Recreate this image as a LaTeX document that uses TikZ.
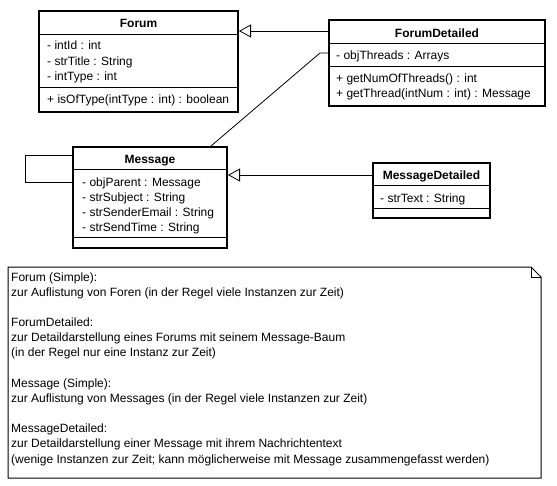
\documentclass[tikz,border=0pt]{standalone}
\usepackage{fontspec}
\setmainfont{Liberation Sans}
\usetikzlibrary{arrows.meta}

\tikzset{
  classbox/.style={draw, line width=2pt, anchor=north west, inner sep=0pt},
  classname/.style={anchor=base, inner sep=0pt, font=\fontsize{12}{15}\selectfont\bfseries},
  member/.style={anchor=base west, inner sep=0pt},
  divider/.style={line width=0.8pt},
  inherit/.style={-{Triangle[open,length=12pt,width=13pt]}, line width=0.8pt},
  assoc/.style={line width=0.8pt},
  notetext/.style={anchor=base west, inner sep=0pt},
}

\begin{document}
\begin{tikzpicture}[x=1pt,y=-1pt,font=\fontsize{12}{15}\selectfont]
        \useasboundingbox (0,0) rectangle (557,485);
        % Forum
        \node[classbox, minimum width=199pt, minimum height=101pt] (forum) at (38,10) {};
        \node[classname] (forum-name) at (138.5,27) {Forum};
        \draw[divider] (38,34) -- (239,34);
        \draw[divider] (38,87) -- (239,87);
        \node[member] (forum-id) at (47,49.5) {- intId : int};
        \node[member] (forum-title) at (47,65) {- strTitle : String};
        \node[member] (forum-type) at (47,80) {- intType : int};
        \node[member] (forum-istype) at (47,103.5) {+ isOfType(intType : int) : boolean};
        % ForumDetailed
        \node[classbox, minimum width=216pt, minimum height=86pt] (fdet) at (328,19) {};
        \node[classname] (fdet-name) at (437,37) {ForumDetailed};
        \draw[divider] (328,43) -- (546,43);
        \draw[divider] (328,66) -- (546,66);
        \node[member] (fdet-threads) at (336,59) {- objThreads : Arrays};
        \node[member] (fdet-num) at (336,82) {+ getNumOfThreads() : int};
        \node[member] (fdet-get) at (336,97) {+ getThread(intNum : int) : Message};
        % Message
        \node[classbox, minimum width=154pt, minimum height=101pt] (msg) at (72,146) {};
        \node[classname] (msg-name) at (150,163) {Message};
        \draw[divider] (72,169) -- (228,169);
        \draw[divider] (72,237) -- (228,237);
        \node[member] (msg-parent) at (82,186) {- objParent : Message};
        \node[member] (msg-subject) at (82,201) {- strSubject : String};
        \node[member] (msg-email) at (82,216) {- strSenderEmail : String};
        \node[member] (msg-time) at (82,231) {- strSendTime : String};
        % MessageDetailed
        \node[classbox, minimum width=117pt, minimum height=55pt] (mdet) at (372,162) {};
        \node[classname] (mdet-name) at (431.5,179.5) {MessageDetailed};
        \draw[divider] (372,185) -- (491,185);
        \draw[divider] (372,208) -- (491,208);
        \node[member] (mdet-text) at (380,202) {- strText : String};
        % connectors
        \coordinate (fdet-in) at ([yshift=-12pt]fdet.north west);
        \draw[inherit] (fdet-in) -- (fdet-in -| forum.east);
        \coordinate (mdet-in) at ([yshift=-13pt]mdet.north west);
        \draw[inherit] (mdet-in) -- (mdet-in -| msg.east);
        \coordinate (fdet-att) at ([yshift=-34pt]fdet.north west);
        \coordinate (msg-top) at ([xshift=-17pt]msg.north east);
        \draw[assoc] (msg-top) -- ([xshift=-8pt]fdet-att) -- (fdet-att);
        \coordinate (loop-a) at ([yshift=-9pt]msg.north west);
        \coordinate (loop-b) at ([yshift=-36pt]msg.north west);
        \draw[assoc] (loop-a) -- ++(-47,0) |- (loop-b);
        % note
        \draw[line width=1pt] (8,267) coordinate (note-nw) -- (531,267) -- (541,277) -- (541,478) -- (8,478) -- cycle;
        \draw[line width=0.8pt] (531,267) -- (531,277) -- (541,277);
        \foreach \n/\txt in {0/{Forum (Simple):},
            1/{zur Auflistung von Foren (in der Regel viele Instanzen zur Zeit)},
            3/{ForumDetailed:},
            4/{zur Detaildarstellung eines Forums mit seinem Message-Baum},
            5/{(in der Regel nur eine Instanz zur Zeit)},
            7/{Message (Simple):},
            8/{zur Auflistung von Messages (in der Regel viele Instanzen zur Zeit)},
            10/{MessageDetailed:},
            11/{zur Detaildarstellung einer Message mit ihrem Nachrichtentext},
            12/{(wenige Instanzen zur Zeit; kann möglicherweise mit Message zusammengefasst werden)}}
          \node[notetext] (note-\n) at (11,{281+15.17*\n}) {\txt};
\end{tikzpicture}
\end{document}
